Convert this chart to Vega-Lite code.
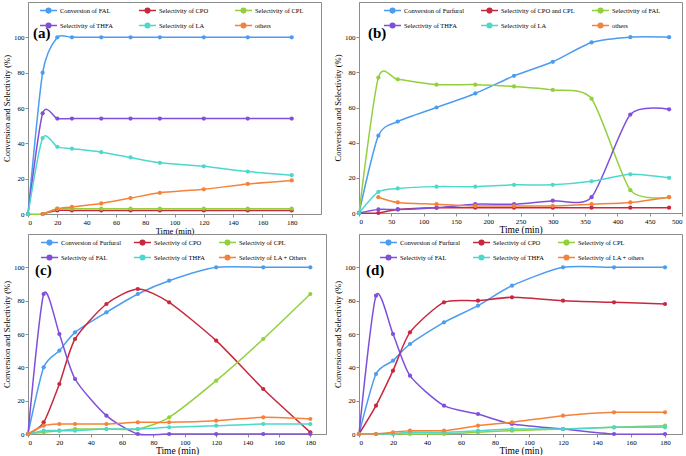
{
  "$schema": "https://vega.github.io/schema/vega-lite/v6.json",
  "background": "white",
  "padding": {"left": 2, "top": 0, "right": 0, "bottom": 0},
  "datasets": {
    "a": [
      {"t":0,"s":"Conversion of FAL","v":0},{"t":10,"s":"Conversion of FAL","v":80},{"t":20,"s":"Conversion of FAL","v":100},{"t":30,"s":"Conversion of FAL","v":100},{"t":50,"s":"Conversion of FAL","v":100},{"t":70,"s":"Conversion of FAL","v":100},{"t":90,"s":"Conversion of FAL","v":100},{"t":120,"s":"Conversion of FAL","v":100},{"t":150,"s":"Conversion of FAL","v":100},{"t":180,"s":"Conversion of FAL","v":100},
      {"t":10,"s":"Selectivity of CPO","v":0},{"t":20,"s":"Selectivity of CPO","v":2},{"t":30,"s":"Selectivity of CPO","v":2},{"t":50,"s":"Selectivity of CPO","v":2},{"t":70,"s":"Selectivity of CPO","v":2},{"t":90,"s":"Selectivity of CPO","v":2},{"t":120,"s":"Selectivity of CPO","v":2},{"t":150,"s":"Selectivity of CPO","v":2},{"t":180,"s":"Selectivity of CPO","v":2},
      {"t":0,"s":"Selectivity of CPL","v":0},{"t":10,"s":"Selectivity of CPL","v":0},{"t":20,"s":"Selectivity of CPL","v":3},{"t":30,"s":"Selectivity of CPL","v":3},{"t":50,"s":"Selectivity of CPL","v":3},{"t":70,"s":"Selectivity of CPL","v":3},{"t":90,"s":"Selectivity of CPL","v":3},{"t":120,"s":"Selectivity of CPL","v":3},{"t":150,"s":"Selectivity of CPL","v":3},{"t":180,"s":"Selectivity of CPL","v":3},
      {"t":0,"s":"Selectivity of THFA","v":0},{"t":10,"s":"Selectivity of THFA","v":57},{"t":20,"s":"Selectivity of THFA","v":54},{"t":30,"s":"Selectivity of THFA","v":54},{"t":50,"s":"Selectivity of THFA","v":54},{"t":70,"s":"Selectivity of THFA","v":54},{"t":90,"s":"Selectivity of THFA","v":54},{"t":120,"s":"Selectivity of THFA","v":54},{"t":150,"s":"Selectivity of THFA","v":54},{"t":180,"s":"Selectivity of THFA","v":54},
      {"t":0,"s":"Selectivity of LA","v":0},{"t":10,"s":"Selectivity of LA","v":43},{"t":20,"s":"Selectivity of LA","v":38},{"t":30,"s":"Selectivity of LA","v":37},{"t":50,"s":"Selectivity of LA","v":35},{"t":70,"s":"Selectivity of LA","v":32},{"t":90,"s":"Selectivity of LA","v":29},{"t":120,"s":"Selectivity of LA","v":27},{"t":150,"s":"Selectivity of LA","v":24},{"t":180,"s":"Selectivity of LA","v":22},
      {"t":10,"s":"others","v":0},{"t":20,"s":"others","v":3},{"t":30,"s":"others","v":4},{"t":50,"s":"others","v":6},{"t":70,"s":"others","v":9},{"t":90,"s":"others","v":12},{"t":120,"s":"others","v":14},{"t":150,"s":"others","v":17},{"t":180,"s":"others","v":19}
    ],
    "b": [
      {"t":0,"s":"Conversion of Furfural","v":0},{"t":30,"s":"Conversion of Furfural","v":44},{"t":60,"s":"Conversion of Furfural","v":52},{"t":120,"s":"Conversion of Furfural","v":60},{"t":180,"s":"Conversion of Furfural","v":68},{"t":240,"s":"Conversion of Furfural","v":78},{"t":300,"s":"Conversion of Furfural","v":86},{"t":360,"s":"Conversion of Furfural","v":97},{"t":420,"s":"Conversion of Furfural","v":100},{"t":480,"s":"Conversion of Furfural","v":100},
      {"t":0,"s":"Selectivity of CPO and CPL","v":0},{"t":30,"s":"Selectivity of CPO and CPL","v":0},{"t":60,"s":"Selectivity of CPO and CPL","v":2},{"t":120,"s":"Selectivity of CPO and CPL","v":3},{"t":180,"s":"Selectivity of CPO and CPL","v":3},{"t":240,"s":"Selectivity of CPO and CPL","v":3},{"t":300,"s":"Selectivity of CPO and CPL","v":3},{"t":360,"s":"Selectivity of CPO and CPL","v":3},{"t":420,"s":"Selectivity of CPO and CPL","v":3},{"t":480,"s":"Selectivity of CPO and CPL","v":3},
      {"t":0,"s":"Selectivity of FAL","v":0},{"t":30,"s":"Selectivity of FAL","v":77},{"t":60,"s":"Selectivity of FAL","v":76},{"t":120,"s":"Selectivity of FAL","v":73},{"t":180,"s":"Selectivity of FAL","v":73},{"t":240,"s":"Selectivity of FAL","v":72},{"t":300,"s":"Selectivity of FAL","v":70},{"t":360,"s":"Selectivity of FAL","v":65},{"t":420,"s":"Selectivity of FAL","v":13},{"t":480,"s":"Selectivity of FAL","v":9},
      {"t":0,"s":"Selectivity of THFA","v":0},{"t":30,"s":"Selectivity of THFA","v":2},{"t":60,"s":"Selectivity of THFA","v":2},{"t":120,"s":"Selectivity of THFA","v":3},{"t":180,"s":"Selectivity of THFA","v":5},{"t":240,"s":"Selectivity of THFA","v":5},{"t":300,"s":"Selectivity of THFA","v":7},{"t":360,"s":"Selectivity of THFA","v":9},{"t":420,"s":"Selectivity of THFA","v":56},{"t":480,"s":"Selectivity of THFA","v":59},
      {"t":0,"s":"Selectivity of LA","v":0},{"t":30,"s":"Selectivity of LA","v":12},{"t":60,"s":"Selectivity of LA","v":14},{"t":120,"s":"Selectivity of LA","v":15},{"t":180,"s":"Selectivity of LA","v":15},{"t":240,"s":"Selectivity of LA","v":16},{"t":300,"s":"Selectivity of LA","v":16},{"t":360,"s":"Selectivity of LA","v":18},{"t":420,"s":"Selectivity of LA","v":22},{"t":480,"s":"Selectivity of LA","v":20},
      {"t":30,"s":"others","v":9},{"t":60,"s":"others","v":6},{"t":120,"s":"others","v":5},{"t":180,"s":"others","v":4},{"t":240,"s":"others","v":4},{"t":300,"s":"others","v":4},{"t":360,"s":"others","v":5},{"t":420,"s":"others","v":6},{"t":480,"s":"others","v":9}
    ],
    "c": [
      {"t":0,"s":"Conversion of Furfural","v":0},{"t":10,"s":"Conversion of Furfural","v":40},{"t":20,"s":"Conversion of Furfural","v":50},{"t":30,"s":"Conversion of Furfural","v":61},{"t":50,"s":"Conversion of Furfural","v":73},{"t":70,"s":"Conversion of Furfural","v":84},{"t":90,"s":"Conversion of Furfural","v":92},{"t":120,"s":"Conversion of Furfural","v":100},{"t":150,"s":"Conversion of Furfural","v":100},{"t":180,"s":"Conversion of Furfural","v":100},
      {"t":0,"s":"Selectiviy of CPO","v":0},{"t":10,"s":"Selectiviy of CPO","v":7},{"t":20,"s":"Selectiviy of CPO","v":30},{"t":30,"s":"Selectiviy of CPO","v":57},{"t":50,"s":"Selectiviy of CPO","v":78},{"t":70,"s":"Selectiviy of CPO","v":87},{"t":90,"s":"Selectiviy of CPO","v":79},{"t":120,"s":"Selectiviy of CPO","v":56},{"t":150,"s":"Selectiviy of CPO","v":27},{"t":180,"s":"Selectiviy of CPO","v":1},
      {"t":0,"s":"Selectiviy of CPL","v":0},{"t":10,"s":"Selectiviy of CPL","v":1},{"t":20,"s":"Selectiviy of CPL","v":2},{"t":30,"s":"Selectiviy of CPL","v":3},{"t":50,"s":"Selectiviy of CPL","v":3},{"t":70,"s":"Selectiviy of CPL","v":3},{"t":90,"s":"Selectiviy of CPL","v":10},{"t":120,"s":"Selectiviy of CPL","v":32},{"t":150,"s":"Selectiviy of CPL","v":57},{"t":180,"s":"Selectiviy of CPL","v":84},
      {"t":0,"s":"Selectiviy of FAL","v":0},{"t":10,"s":"Selectiviy of FAL","v":84},{"t":20,"s":"Selectiviy of FAL","v":60},{"t":30,"s":"Selectiviy of FAL","v":33},{"t":50,"s":"Selectiviy of FAL","v":11},{"t":70,"s":"Selectiviy of FAL","v":0},{"t":90,"s":"Selectiviy of FAL","v":0},{"t":120,"s":"Selectiviy of FAL","v":0},{"t":150,"s":"Selectiviy of FAL","v":0},{"t":180,"s":"Selectiviy of FAL","v":0},
      {"t":0,"s":"Selectiviy of THFA","v":0},{"t":10,"s":"Selectiviy of THFA","v":2},{"t":20,"s":"Selectiviy of THFA","v":2},{"t":30,"s":"Selectiviy of THFA","v":2},{"t":50,"s":"Selectiviy of THFA","v":3},{"t":70,"s":"Selectiviy of THFA","v":3},{"t":90,"s":"Selectiviy of THFA","v":4},{"t":120,"s":"Selectiviy of THFA","v":5},{"t":150,"s":"Selectiviy of THFA","v":6},{"t":180,"s":"Selectiviy of THFA","v":6},
      {"t":0,"s":"Selectiviy of LA + Others","v":0},{"t":10,"s":"Selectiviy of LA + Others","v":5},{"t":20,"s":"Selectiviy of LA + Others","v":6},{"t":30,"s":"Selectiviy of LA + Others","v":6},{"t":50,"s":"Selectiviy of LA + Others","v":6},{"t":70,"s":"Selectiviy of LA + Others","v":7},{"t":90,"s":"Selectiviy of LA + Others","v":7},{"t":120,"s":"Selectiviy of LA + Others","v":8},{"t":150,"s":"Selectiviy of LA + Others","v":10},{"t":180,"s":"Selectiviy of LA + Others","v":9}
    ],
    "d": [
      {"t":0,"s":"Conversion of Furfural","v":0},{"t":10,"s":"Conversion of Furfural","v":36},{"t":20,"s":"Conversion of Furfural","v":44},{"t":30,"s":"Conversion of Furfural","v":54},{"t":50,"s":"Conversion of Furfural","v":67},{"t":70,"s":"Conversion of Furfural","v":77},{"t":90,"s":"Conversion of Furfural","v":89},{"t":120,"s":"Conversion of Furfural","v":100},{"t":150,"s":"Conversion of Furfural","v":100},{"t":180,"s":"Conversion of Furfural","v":100},
      {"t":0,"s":"Selectiviy of CPO","v":0},{"t":10,"s":"Selectiviy of CPO","v":17},{"t":20,"s":"Selectiviy of CPO","v":38},{"t":30,"s":"Selectiviy of CPO","v":61},{"t":50,"s":"Selectiviy of CPO","v":79},{"t":70,"s":"Selectiviy of CPO","v":80},{"t":90,"s":"Selectiviy of CPO","v":82},{"t":120,"s":"Selectiviy of CPO","v":80},{"t":150,"s":"Selectiviy of CPO","v":79},{"t":180,"s":"Selectiviy of CPO","v":78},
      {"t":0,"s":"Selectiviy of CPL","v":0},{"t":10,"s":"Selectiviy of CPL","v":0},{"t":20,"s":"Selectiviy of CPL","v":0},{"t":30,"s":"Selectiviy of CPL","v":0},{"t":50,"s":"Selectiviy of CPL","v":0},{"t":70,"s":"Selectiviy of CPL","v":1},{"t":90,"s":"Selectiviy of CPL","v":2},{"t":120,"s":"Selectiviy of CPL","v":3},{"t":150,"s":"Selectiviy of CPL","v":4},{"t":180,"s":"Selectiviy of CPL","v":5},
      {"t":0,"s":"Selectiviy of FAL","v":0},{"t":10,"s":"Selectiviy of FAL","v":83},{"t":20,"s":"Selectiviy of FAL","v":60},{"t":30,"s":"Selectiviy of FAL","v":35},{"t":50,"s":"Selectiviy of FAL","v":17},{"t":70,"s":"Selectiviy of FAL","v":12},{"t":90,"s":"Selectiviy of FAL","v":6},{"t":120,"s":"Selectiviy of FAL","v":3},{"t":150,"s":"Selectiviy of FAL","v":0},{"t":180,"s":"Selectiviy of FAL","v":0},
      {"t":0,"s":"Selectiviy of THFA","v":0},{"t":10,"s":"Selectiviy of THFA","v":0},{"t":20,"s":"Selectiviy of THFA","v":0},{"t":30,"s":"Selectiviy of THFA","v":1},{"t":50,"s":"Selectiviy of THFA","v":1},{"t":70,"s":"Selectiviy of THFA","v":2},{"t":90,"s":"Selectiviy of THFA","v":3},{"t":120,"s":"Selectiviy of THFA","v":3},{"t":150,"s":"Selectiviy of THFA","v":4},{"t":180,"s":"Selectiviy of THFA","v":4},
      {"t":0,"s":"Selectiviy of LA + others","v":0},{"t":10,"s":"Selectiviy of LA + others","v":0},{"t":20,"s":"Selectiviy of LA + others","v":1},{"t":30,"s":"Selectiviy of LA + others","v":2},{"t":50,"s":"Selectiviy of LA + others","v":2},{"t":70,"s":"Selectiviy of LA + others","v":5},{"t":90,"s":"Selectiviy of LA + others","v":7},{"t":120,"s":"Selectiviy of LA + others","v":11},{"t":150,"s":"Selectiviy of LA + others","v":13},{"t":180,"s":"Selectiviy of LA + others","v":13}
    ]
  },
  "columns": 2,
  "align": "each",
  "bounds": "flush",
  "spacing": {"row": 20, "column": 33},
  "resolve": {"scale": {"x": "independent", "y": "independent", "color": "independent"}, "legend": {"color": "independent"}},
  "concat": [
    {
      "width": 293, "height": 212,
      "data": {"name": "a"},
      "title": {"text": "(a)", "anchor": "start", "frame": "group", "offset": 0, "dx": 5, "dy": 40},
      "mark": {"type": "line", "interpolate": "cardinal", "tension": 0.3, "strokeWidth": 1.5, "point": {"filled": true, "size": 18}},
      "encoding": {
        "x": {"field": "t", "type": "quantitative", "scale": {"domain": [0, 200], "nice": false}, "axis": {"values": [0,20,40,60,80,100,120,140,160,180], "title": "Time (min)", "titleFontSize": 8.5, "titlePadding": 1}},
        "y": {"field": "v", "type": "quantitative", "scale": {"domain": [0, 120], "nice": false}, "axis": {"values": [0,20,40,60,80,100], "title": "Conversion and Selectivity (%)"}},
        "color": {"field": "s", "type": "nominal",
          "scale": {"domain": ["Conversion of FAL","Selectivity of THFA","Selectivity of CPO","Selectivity of LA","Selectivity of CPL","others"], "range": ["#4c9cf0","#7f4fdc","#c8283e","#4dd8cc","#92d03c","#f5823a"]},
          "legend": {"orient": "none", "legendX": 11, "legendY": -1, "columnPadding": 23}}
      }
    },
    {
      "width": 323, "height": 211,
      "data": {"name": "b"},
      "title": {"text": "(b)", "anchor": "start", "frame": "group", "offset": 0, "dx": 9, "dy": 40},
      "mark": {"type": "line", "interpolate": "cardinal", "tension": 0.3, "strokeWidth": 1.5, "point": {"filled": true, "size": 18}},
      "encoding": {
        "x": {"field": "t", "type": "quantitative", "scale": {"domain": [0, 500], "nice": false}, "axis": {"values": [0,50,100,150,200,250,300,350,400,450,500], "title": "Time (min)"}},
        "y": {"field": "v", "type": "quantitative", "scale": {"domain": [0, 120], "nice": false}, "axis": {"values": [0,20,40,60,80,100], "title": "Conversion and Selectivity (%)"}},
        "color": {"field": "s", "type": "nominal",
          "scale": {"domain": ["Conversion of Furfural","Selectivity of THFA","Selectivity of CPO and CPL","Selectivity of LA","Selectivity of FAL","others"], "range": ["#4c9cf0","#7f4fdc","#c8283e","#4dd8cc","#92d03c","#f5823a"]},
          "legend": {"orient": "none", "legendX": 24, "legendY": -1, "columnPadding": 14}}
      }
    },
    {
      "width": 298, "height": 200,
      "data": {"name": "c"},
      "title": {"text": "(c)", "anchor": "start", "frame": "group", "offset": 0, "dx": 7, "dy": 45},
      "mark": {"type": "line", "interpolate": "cardinal", "tension": 0.3, "strokeWidth": 1.5, "point": {"filled": true, "size": 18}},
      "encoding": {
        "x": {"field": "t", "type": "quantitative", "scale": {"domain": [0, 190], "nice": false}, "axis": {"values": [0,20,40,60,80,100,120,140,160,180], "title": "Time (min)"}},
        "y": {"field": "v", "type": "quantitative", "scale": {"domain": [0, 120], "nice": false}, "axis": {"values": [0,20,40,60,80,100], "title": "Conversion and Selectivity (%)"}},
        "color": {"field": "s", "type": "nominal",
          "scale": {"domain": ["Conversion of Furfural","Selectiviy of FAL","Selectiviy of CPO","Selectiviy of THFA","Selectiviy of CPL","Selectiviy of LA + Others"], "range": ["#4c9cf0","#7f4fdc","#c8283e","#4dd8cc","#92d03c","#f5823a"]},
          "legend": {"orient": "none", "legendX": 12, "legendY": -1, "columnPadding": 10}}
      }
    },
    {
      "width": 323, "height": 200,
      "data": {"name": "d"},
      "title": {"text": "(d)", "anchor": "start", "frame": "group", "offset": 0, "dx": 7, "dy": 45},
      "mark": {"type": "line", "interpolate": "cardinal", "tension": 0.3, "strokeWidth": 1.5, "point": {"filled": true, "size": 18}},
      "encoding": {
        "x": {"field": "t", "type": "quantitative", "scale": {"domain": [0, 190], "nice": false}, "axis": {"values": [0,20,40,60,80,100,120,140,160,180], "title": "Time (min)"}},
        "y": {"field": "v", "type": "quantitative", "scale": {"domain": [0, 120], "nice": false}, "axis": {"values": [0,20,40,60,80,100], "title": "Conversion and Selectivity (%)"}},
        "color": {"field": "s", "type": "nominal",
          "scale": {"domain": ["Conversion of Furfural","Selectiviy of FAL","Selectiviy of CPO","Selectiviy of THFA","Selectiviy of CPL","Selectiviy of LA + others"], "range": ["#4c9cf0","#7f4fdc","#c8283e","#4dd8cc","#92d03c","#f5823a"]},
          "legend": {"orient": "none", "legendX": 20, "legendY": -1, "columnPadding": 10}}
      }
    }
  ],
  "config": {
    "font": "Liberation Serif",
    "view": {"stroke": "#8c8c8c", "strokeWidth": 1},
    "title": {"font": "Liberation Serif", "fontSize": 15, "fontWeight": "bold", "color": "black", "baseline": "bottom"},
    "axis": {"grid": false, "domainColor": "#8c8c8c", "tickColor": "#8c8c8c", "tickSize": 3, "labelFont": "Liberation Serif", "labelFontSize": 7, "labelColor": "black", "labelPadding": 1, "titleFont": "Liberation Serif", "titleFontWeight": "normal", "titleColor": "black"},
    "axisX": {"titleFontSize": 9.5, "titlePadding": 0},
    "axisY": {"titleFontSize": 8.5, "titlePadding": 2},
    "legend": {"title": null, "columns": 3, "rowPadding": -4, "padding": 0,
      "symbolType": "M-1,0L1,0M-0.27,0A0.27,0.27,0,1,1,0.27,0A0.27,0.27,0,1,1,-0.27,0Z",
      "symbolSize": 289, "symbolStrokeWidth": 1.5, "labelFont": "Liberation Serif", "labelFontSize": 6.5, "labelColor": "black", "labelOffset": 2}
  }
}
